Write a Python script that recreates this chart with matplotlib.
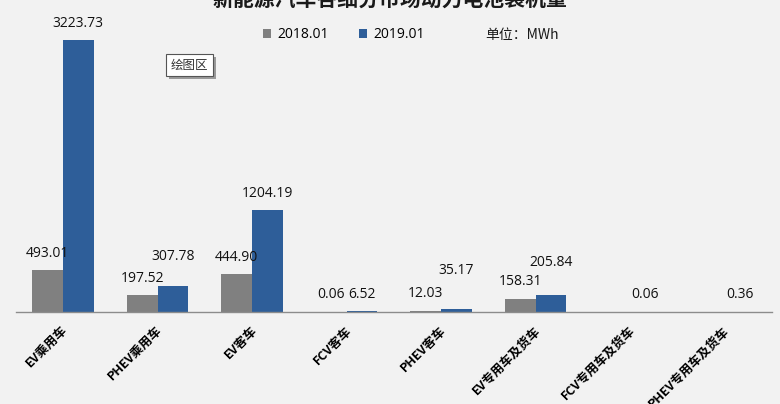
import matplotlib
matplotlib.use('Agg')
import matplotlib.pyplot as plt
import matplotlib.transforms as mtransforms
import numpy as np
from matplotlib.patches import Rectangle

plt.rcParams['font.family'] = ['Noto Sans CJK SC', 'DejaVu Sans']
num_font = ['Open Sans', 'Noto Sans CJK SC']

# %% data
categories = ['EV乘用车', 'PHEV乘用车', 'EV客车', 'FCV客车', 'PHEV客车',
              'EV专用车及货车', 'FCV专用车及货车', 'PHEV专用车及货车']
val_2018 = [493.01, 197.52, 444.90, 0.06, 12.03, 158.31, 0.0, 0.0]
val_2019 = [3223.73, 307.78, 1204.19, 6.52, 35.17, 205.84, 0.06, 0.36]
show_2018 = [True, True, True, True, True, True, False, False]

# extra lift (pixels) for labels that Excel moved up to avoid overlaps
lift_2019 = [0, 13, 0, 0, 22, 15, 0, 0]

c_2018 = '#808080'
c_2019 = '#2e5e99'
bg = '#f2f2f2'

# %% figure
fig = plt.figure(figsize=(7.8, 4.04), dpi=100, facecolor=bg)
ax = fig.add_axes([15.75 / 780, 92 / 404, 756 / 780, 295.3 / 404])
ax.set_facecolor(bg)

x = np.arange(len(categories))
w = 0.323
b1 = ax.bar(x - w / 2, val_2018, w, color=c_2018, label='2018.01')
b2 = ax.bar(x + w / 2, val_2019, w, color=c_2019, label='2019.01')

ax.set_xlim(-0.5, len(categories) - 0.5)
ax.set_ylim(0, 3500)

for i, r in enumerate(b1):
    if show_2018[i]:
        ax.annotate(f'{val_2018[i]:.2f}', (r.get_x() + r.get_width() / 2, r.get_height()),
                    xytext=(0, 17), textcoords='offset pixels', family=num_font,
                    ha='center', va='center', fontsize=10, color='#111111')
for i, r in enumerate(b2):
    ax.annotate(f'{val_2019[i]:.2f}', (r.get_x() + r.get_width() / 2, r.get_height()),
                xytext=(0, 17 + lift_2019[i]), textcoords='offset pixels', family=num_font,
                ha='center', va='center', fontsize=10, color='#111111')

for s in ['top', 'right', 'left']:
    ax.spines[s].set_visible(False)
ax.spines['bottom'].set_color('#8c8c8c')
ax.spines['bottom'].set_linewidth(1)
ax.set_yticks([])
ax.set_xticks(x)
ax.set_xticklabels(categories, rotation=45, ha='right', va='center',
                   rotation_mode='anchor', fontsize=9, fontweight='bold')
ax.tick_params(axis='x', length=0, pad=12)
shift = mtransforms.ScaledTranslation(3 / 100, 0, fig.dpi_scale_trans)
for lab in ax.get_xticklabels():
    lab.set_transform(lab.get_transform() + shift)

# %% title, legend, notes
fig.text(390 / 780, 0.986, '新能源汽车各细分市场动力电池装机量',
         ha='center', va='baseline', fontsize=15, fontweight='bold', color='#1a1a1a')

fig.legend(handles=[b1, b2], loc='center', bbox_to_anchor=(344 / 780, 1 - 35 / 404),
           ncol=2, frameon=False, handlelength=0.55, handleheight=0.55,
           handletextpad=0.45, columnspacing=2.2,
           prop={'family': num_font, 'size': 10})
fig.text(485 / 780, 1 - 35 / 404, '单位：MWh', ha='left', va='center', fontsize=10,
         color='#1a1a1a')

# Excel "plot area" tooltip box
fig.add_artist(Rectangle((169 / 780, 1 - 79 / 404), 47 / 780, 22 / 404,
                         transform=fig.transFigure, facecolor='#9a9a9a',
                         edgecolor='none'))
fig.add_artist(Rectangle((166 / 780, 1 - 76 / 404), 47 / 780, 22 / 404,
                         transform=fig.transFigure, facecolor='white',
                         edgecolor='#555555', linewidth=0.8))
fig.text(189.5 / 780, 1 - 65 / 404, '绘图区', ha='center', va='center',
         fontsize=9, color='#333333')

fig.savefig('out.png', dpi=100, facecolor=bg)
